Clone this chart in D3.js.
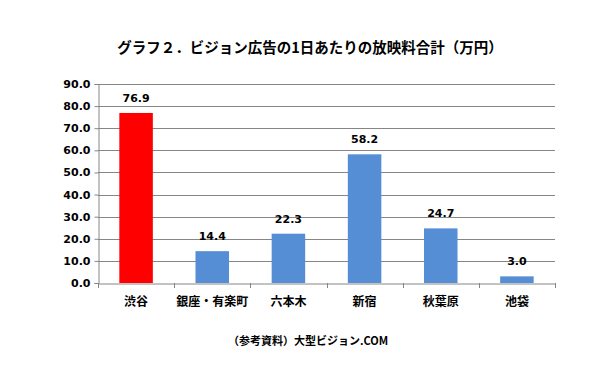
<!DOCTYPE html>
<html><head><meta charset="utf-8">
<script src="https://cdn.jsdelivr.net/npm/d3@7"></script>
<style>body{margin:0;background:#fff}svg{display:block}text{font-family:"Noto Sans CJK JP","DejaVu Sans",sans-serif}</style>
</head><body><svg id="c" width="610" height="378"></svg>
<script>
const categories = ["渋谷","銀座・有楽町","六本木","新宿","秋葉原","池袋"];
const values = [76.9,14.4,22.3,58.2,24.7,3.0];
const colors = ["#FF0000","#558ED5","#558ED5","#558ED5","#558ED5","#558ED5"];
const yTicks = [0,10,20,30,40,50,60,70,80,90];
const title = "グラフ２．ビジョン広告の1日あたりの放映料合計（万円）";
const source = "（参考資料）大型ビジョン.COM";

const svg = d3.select("#c");
const L=98,R=555,T=84,B=283;
const x = d3.scaleBand().domain(categories).range([L,R]).paddingInner(0.56).paddingOuter(0.28);
const y = d3.scaleLinear().domain([0,90]).range([B,T]);

svg.append("text").attr("x",310).attr("y",53).attr("text-anchor","middle")
  .attr("font-size",14.5).attr("font-weight","bold").attr("fill","#000").text(title);

svg.append("g").selectAll("line").data(yTicks.slice(1)).join("line")
  .attr("x1",L).attr("x2",R).attr("y1",d=>Math.round(y(d))+0.5).attr("y2",d=>Math.round(y(d))+0.5)
  .attr("stroke","#868686").attr("stroke-width",1);

const ya = svg.append("g").attr("transform",`translate(${L+0.5},0)`)
  .call(d3.axisLeft(y).tickValues(yTicks).tickFormat(d3.format(".1f")).tickSize(4).tickPadding(4));
ya.select(".domain").attr("stroke","#868686");
ya.selectAll(".tick line").attr("stroke","#868686");
ya.selectAll("text").attr("font-size",11).attr("font-weight","bold").attr("fill","#000")
  .style("font-family","Verdana,'DejaVu Sans',sans-serif");

svg.append("g").selectAll("rect").data(values).join("rect")
  .attr("x",(d,i)=>x(categories[i])).attr("width",x.bandwidth())
  .attr("y",d=>y(d)).attr("height",d=>B-y(d)).attr("fill",(d,i)=>colors[i]);

svg.append("g").selectAll("text").data(values).join("text")
  .attr("x",(d,i)=>x(categories[i])+x.bandwidth()/2).attr("y",d=>y(d)-11)
  .attr("text-anchor","middle").attr("font-size",11).attr("font-weight","bold")
  .style("font-family","Verdana,'DejaVu Sans',sans-serif").text(d=>d.toFixed(1));

const xa = svg.append("g").attr("transform",`translate(0,${B+0.5})`)
  .call(d3.axisBottom(x).tickSize(0).tickPadding(14));
xa.select(".domain").attr("stroke","#868686");
xa.selectAll("text").attr("font-size",12).attr("font-weight","bold").attr("fill","#000");
const step = x.step();
svg.append("g").selectAll("line").data(d3.range(categories.length+1)).join("line")
  .attr("x1",i=>Math.round(L+i*step)+0.5).attr("x2",i=>Math.round(L+i*step)+0.5)
  .attr("y1",B).attr("y2",B+5).attr("stroke","#868686");

svg.append("text").attr("x",308).attr("y",345).attr("text-anchor","middle")
  .attr("font-size",11).attr("font-weight","bold").text(source);
</script></body></html>
